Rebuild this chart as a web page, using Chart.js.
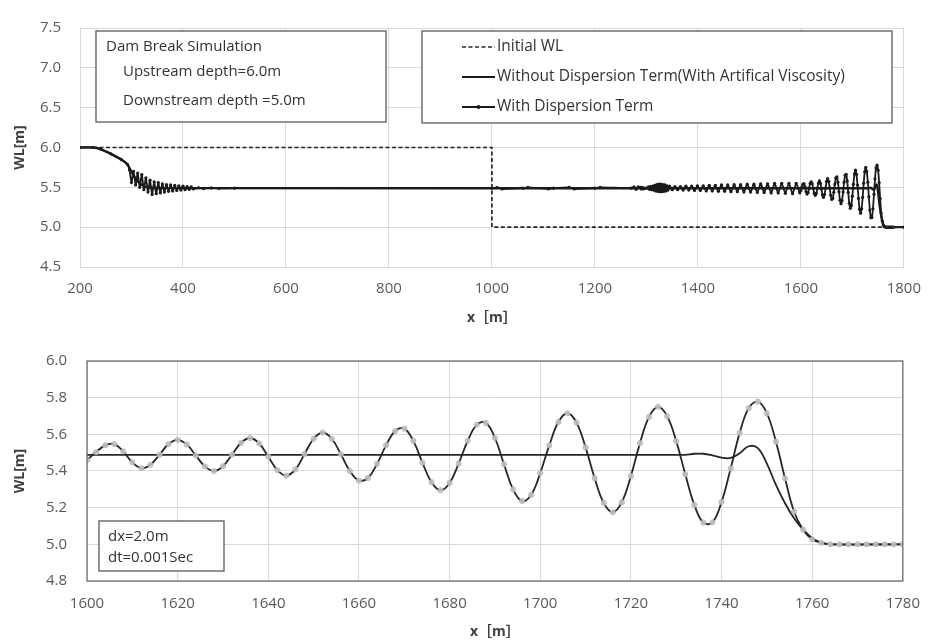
<!DOCTYPE html>
<html>
<head>
<meta charset="utf-8">
<script src="https://cdn.jsdelivr.net/npm/chart.js@4.4.1/dist/chart.umd.min.js"></script>
<style>
  body { margin: 0; background: #fff; }
  #wrap { position: relative; width: 934px; height: 643px; }
  canvas { position: absolute; left: 0; }
  #topChart { top: 0; }
  #zoomChart { top: 330px; }
</style>
</head>
<body>
<div id="wrap">
  <canvas id="topChart" width="934" height="330"></canvas>
  <canvas id="zoomChart" width="934" height="313"></canvas>
</div>
<script>
// ---- data: initial water level (whole channel)
const initX = [200, 1000, 1000, 1800];
const initY = [6.0, 6.0, 5.0, 5.0];

// ---- data: whole channel, x < 1600
const topNoDispX = [200, 225, 240, 260, 280, 292, 298, 306, 316, 326, 336, 350, 1598];
const topNoDispY = [6.0, 6.0, 5.98, 5.92, 5.85, 5.79, 5.72, 5.63, 5.55, 5.51, 5.495, 5.49, 5.488];

const topDispX = [200, 225, 240, 260, 280, 292,
  296, 300, 304, 308, 312, 316, 320, 324, 328, 332, 336, 340, 344, 348, 352, 356,
  360, 364, 368, 372, 376, 380, 384, 388, 392, 396, 400, 404, 408, 412, 416, 420,
  430, 440, 455, 470, 500, 1000, 1010, 1020, 1060, 1070, 1110, 1120, 1150, 1160, 1200, 1210, 1270,
  1276, 1280, 1284, 1288, 1290, 1292, 1294, 1296, 1300, 1304, 1306, 1308, 1310, 1312, 1314, 1316, 1318,
  1320, 1322, 1324, 1326, 1328, 1330, 1332, 1334, 1336, 1338, 1340, 1342,
  1345, 1350.2, 1355.4, 1360.7, 1366, 1371.4, 1376.8, 1382.3, 1387.8, 1393.4,
  1399, 1404.7, 1410.4, 1416.2, 1422, 1427.9, 1433.8, 1439.8, 1445.8, 1451.9,
  1458, 1464.2, 1470.4, 1476.7, 1483, 1489.4, 1495.8, 1502.3, 1508.8, 1515.4,
  1522, 1528.7, 1535.4, 1542.2, 1549, 1555.9, 1562.8, 1569.8, 1576.8, 1583.9,
  1591, 1597.8];
const topDispY = [6.0, 6.0, 5.98, 5.92, 5.85, 5.79,
  5.72, 5.56, 5.70, 5.53, 5.68, 5.50, 5.66, 5.47, 5.62, 5.44, 5.59, 5.41, 5.57, 5.42, 5.56, 5.43,
  5.545, 5.44, 5.535, 5.45, 5.53, 5.455, 5.525, 5.46, 5.52, 5.465, 5.515, 5.47, 5.51, 5.475, 5.505, 5.48,
  5.495, 5.485, 5.493, 5.487, 5.49, 5.49, 5.498, 5.48, 5.49, 5.5, 5.48, 5.49, 5.5, 5.48, 5.49, 5.5, 5.49,
  5.505, 5.475, 5.505, 5.50, 5.48, 5.50, 5.48, 5.49, 5.49, 5.505, 5.475, 5.51, 5.47, 5.515, 5.465, 5.525, 5.455,
  5.535, 5.45, 5.54, 5.445, 5.54, 5.445, 5.535, 5.45, 5.53, 5.455, 5.52, 5.465,
  5.515, 5.47, 5.51, 5.47, 5.51, 5.465, 5.515, 5.465, 5.515, 5.46,
  5.52, 5.46, 5.52, 5.455, 5.525, 5.455, 5.525, 5.45, 5.53, 5.45,
  5.53, 5.445, 5.535, 5.445, 5.535, 5.44, 5.54, 5.44, 5.54, 5.435,
  5.545, 5.435, 5.545, 5.43, 5.55, 5.43, 5.55, 5.425, 5.55, 5.42,
  5.55, 5.43];

// ---- data: wave front, 1600-1780 m (dx = 2.0 m)
const frontDispX = [1600, 1602, 1604, 1606, 1608, 1610, 1612, 1614, 1616, 1618,
  1620, 1622, 1624, 1626, 1628, 1630, 1632, 1634, 1636, 1638,
  1640, 1642, 1644, 1646, 1648, 1650, 1652, 1654, 1656, 1658,
  1660, 1662, 1664, 1666, 1668, 1670, 1672, 1674, 1676, 1678,
  1680, 1682, 1684, 1686, 1688, 1690, 1692, 1694, 1696, 1698,
  1700, 1702, 1704, 1706, 1708, 1710, 1712, 1714, 1716, 1718,
  1720, 1722, 1724, 1726, 1728, 1730, 1732, 1734, 1736, 1738,
  1740, 1742, 1744, 1746, 1748, 1750, 1752, 1754, 1756, 1758,
  1760, 1762, 1764, 1766, 1768, 1770, 1772, 1774, 1776, 1778, 1780];
const frontDispY = [5.46, 5.503, 5.54, 5.547, 5.507, 5.447, 5.415, 5.434, 5.489, 5.547,
  5.57, 5.545, 5.485, 5.425, 5.40, 5.426, 5.49, 5.554, 5.58, 5.55,
  5.478, 5.405, 5.375, 5.409, 5.493, 5.576, 5.61, 5.576, 5.492, 5.40,
  5.348, 5.362, 5.439, 5.541, 5.618, 5.631, 5.564, 5.446, 5.339, 5.295,
  5.335, 5.441, 5.565, 5.652, 5.663, 5.58, 5.437, 5.30, 5.236, 5.27,
  5.389, 5.54, 5.667, 5.715, 5.664, 5.529, 5.361, 5.226, 5.175, 5.23,
  5.373, 5.552, 5.695, 5.75, 5.699, 5.563, 5.382, 5.215, 5.118, 5.12,
  5.231, 5.413, 5.608, 5.743, 5.778, 5.715, 5.56, 5.36, 5.178, 5.08,
  5.027, 5.008, 5.0, 5.0, 5.0, 5.0, 5.0, 5.0, 5.0, 5.0, 5.0];

const frontNoDispX = [1600, 1720, 1730, 1732, 1734, 1736, 1738, 1740, 1742, 1744, 1746,
  1748, 1750, 1752, 1754, 1756, 1758, 1760, 1762, 1764, 1780];
const frontNoDispY = [5.488, 5.488, 5.488, 5.488, 5.494, 5.494, 5.485, 5.473, 5.471, 5.497, 5.535,
  5.525, 5.44, 5.324, 5.224, 5.142, 5.08, 5.035, 5.01, 5.0, 5.0];

const labels = ['Initial WL', 'Without Dispersion Term(With Artifical Viscosity)', 'With Dispersion Term'];

function pts(xs, ys) { return xs.map((x, i) => ({ x: x, y: ys[i] })); }

Chart.defaults.font.family = '"Open Sans", "Noto Sans CJK JP", sans-serif';
Chart.defaults.color = '#595959';

const tickFont = { size: 15 };
const titleFont = { size: 14, weight: 'bold' };
const gridColor = '#d9d9d9';

// text boxes (annotations) and the boxed legend
const textBoxes = {
  id: 'textBoxes',
  afterDatasetsDraw(chart, args, opts) {
    const ctx = chart.ctx;
    (opts.boxes || []).forEach(b => {
      ctx.save();
      ctx.fillStyle = '#fff';
      ctx.fillRect(b.x, b.y, b.w, b.h);
      ctx.strokeStyle = '#595959';
      ctx.lineWidth = 1.3;
      ctx.strokeRect(b.x, b.y, b.w, b.h);
      ctx.fillStyle = '#333';
      ctx.font = (b.size || 15) + 'px "Open Sans", sans-serif';
      ctx.textBaseline = 'middle';
      b.lines.forEach(l => ctx.fillText(l.text, l.x, l.y));
      if (b.legend) {
        chart.data.datasets.forEach((ds, i) => {
          const y = b.legend.rows[i];
          ctx.save();
          ctx.strokeStyle = ds.borderColor;
          ctx.lineWidth = Math.min(ds.borderWidth, 1.8);
          ctx.setLineDash(ds.borderDash || []);
          ctx.beginPath();
          ctx.moveTo(b.legend.x1, y);
          ctx.lineTo(b.legend.x2, y);
          ctx.stroke();
          if (ds.pointRadius > 0) {
            ctx.fillStyle = ds.pointBackgroundColor;
            ctx.beginPath();
            ctx.arc((b.legend.x1 + b.legend.x2) / 2, y, 2, 0, Math.PI * 2);
            ctx.fill();
          }
          ctx.restore();
          ctx.fillText(ds.label, b.legend.x2 + 2, y);
        });
      }
      ctx.restore();
    });
  }
};

const frameBox = {
  id: 'frameBox',
  afterDatasetsDraw(chart, args, opts) {
    if (!opts.color) return;
    const a = chart.chartArea;
    const ctx = chart.ctx;
    ctx.save();
    ctx.strokeStyle = opts.color;
    ctx.lineWidth = 1.3;
    ctx.strokeRect(a.left, a.top, a.right - a.left, a.bottom - a.top);
    ctx.restore();
  }
};

function axes(o) {
  return {
    x: {
      type: 'linear', min: o.xmin, max: o.xmax,
      afterFit: s => { s.height = o.xh; },
      ticks: { stepSize: o.xstep, font: tickFont, padding: o.xpad, maxRotation: 0, callback: v => v },
      grid: { color: gridColor, drawTicks: false },
      border: { color: gridColor },
      title: { display: true, text: 'x［m］', font: titleFont, color: '#404040', padding: { top: 0, bottom: o.xtpad } }
    },
    y: {
      min: o.ymin, max: o.ymax,
      afterFit: s => { s.width = o.yw; },
      ticks: { stepSize: o.ystep, font: tickFont, padding: o.ypad, callback: v => v.toFixed(1) },
      grid: { color: gridColor, drawTicks: false },
      border: { color: gridColor },
      title: { display: true, text: 'WL[m]', font: titleFont, color: '#404040', padding: { top: o.ytpad, bottom: 0 } }
    }
  };
}

new Chart(document.getElementById('topChart'), {
  type: 'line',
  data: {
    datasets: [
      { label: labels[0], data: pts(initX, initY), borderColor: '#262626', borderWidth: 1.7,
        borderDash: [4, 2.5], pointRadius: 0, tension: 0 },
      { label: labels[1], data: pts(topNoDispX.concat(frontNoDispX, [1800]), topNoDispY.concat(frontNoDispY, [5.0])),
        borderColor: '#1a1a1a', borderWidth: 2.4, pointRadius: 0, tension: 0.2 },
      { label: labels[2], data: pts(topDispX.concat(frontDispX, [1800]), topDispY.concat(frontDispY, [5.0])),
        borderColor: '#1a1a1a', borderWidth: 1.8, pointRadius: 1.6, pointBorderWidth: 0,
        pointBackgroundColor: '#1a1a1a', tension: 0.2 }
    ]
  },
  options: {
    responsive: false, animation: false, devicePixelRatio: 1,
    layout: { padding: { left: 0, top: 16, right: 23, bottom: 0 } },
    plugins: {
      legend: { display: false }, tooltip: { enabled: false },
      textBoxes: {
        boxes: [
          { x: 96, y: 31, w: 290, h: 91, size: 15, lines: [
            { text: 'Dam Break Simulation', x: 106, y: 47 },
            { text: 'Upstream depth=6.0m', x: 123, y: 72 },
            { text: 'Downstream depth =5.0m', x: 123, y: 101 }] },
          { x: 422, y: 31, w: 470, h: 92, size: 15.5, lines: [],
            legend: { x1: 462, x2: 495, rows: [47, 77, 107] } }
        ]
      }
    },
    scales: axes({ xmin: 200, xmax: 1800, xstep: 200, ymin: 4.5, ymax: 7.5, ystep: 0.5,
      xh: 63, yw: 80, xpad: 13, ypad: 19, xtpad: 4, ytpad: 12 })
  },
  plugins: [textBoxes]
});

new Chart(document.getElementById('zoomChart'), {
  type: 'line',
  data: {
    datasets: [
      { label: labels[2], data: pts(frontDispX, frontDispY), borderColor: '#262626', borderWidth: 1.8,
        pointRadius: 2.6, pointBackgroundColor: 'rgba(200,200,200,0.85)', pointBorderColor: '#b0b0b0',
        pointBorderWidth: 0.8, tension: 0.4 },
      { label: labels[1], data: pts(frontNoDispX, frontNoDispY), borderColor: '#262626', borderWidth: 1.8,
        pointRadius: 0, tension: 0.4 }
    ]
  },
  options: {
    responsive: false, animation: false, devicePixelRatio: 1,
    layout: { padding: { left: 0, top: 31, right: 18, bottom: 0 } },
    plugins: {
      legend: { display: false }, tooltip: { enabled: false },
      frameBox: { color: '#6e6e6e' },
      textBoxes: {
        boxes: [
          { x: 99, y: 191, w: 125, h: 50, size: 15, lines: [
            { text: 'dx=2.0m', x: 108, y: 207 },
            { text: 'dt=0.001Sec', x: 108, y: 228 }] }
        ]
      }
    },
    scales: axes({ xmin: 1600, xmax: 1780, xstep: 20, ymin: 4.8, ymax: 6.0, ystep: 0.2,
      xh: 62, yw: 87, xpad: 14, ypad: 20, xtpad: 3, ytpad: 12 })
  },
  plugins: [frameBox, textBoxes]
});
</script>
</body>
</html>
